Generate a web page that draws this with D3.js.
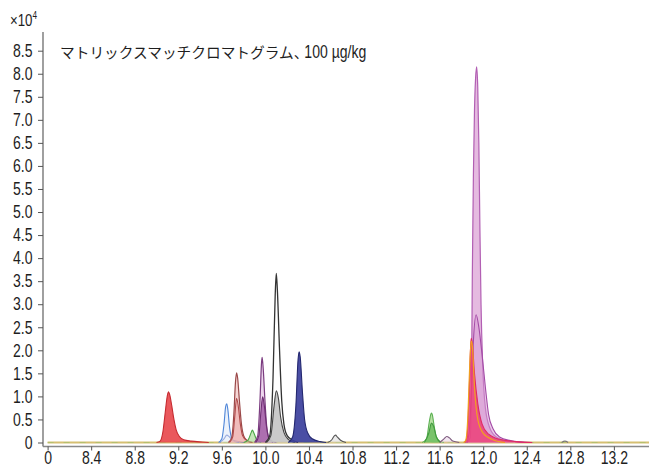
<!DOCTYPE html>
<html><head><meta charset="utf-8">
<script src="https://cdn.jsdelivr.net/npm/d3@7"></script>
<style>
html,body{margin:0;padding:0;background:#fff;}
svg{display:block;}
</style></head>
<body>
<svg id="c" width="649" height="467"></svg>
<script>
// ---- data (retention time in min, intensity in x10^4 counts) ----
const xTicks = [8.0, 8.4, 8.8, 9.2, 9.6, 10.0, 10.4, 10.8, 11.2, 11.6, 12.0, 12.4, 12.8, 13.2];
const xTickLabels = ["0", "8.4", "8.8", "9.2", "9.6", "10.0", "10.4", "10.8", "11.2", "11.6", "12.0", "12.4", "12.8", "13.2"];
const yTicks = [0, 0.5, 1.0, 1.5, 2.0, 2.5, 3.0, 3.5, 4.0, 4.5, 5.0, 5.5, 6.0, 6.5, 7.0, 7.5, 8.0, 8.5];
const titleJa = "マトリックスマッチクロマトグラム、";
const titleUnit = "100 µg/kg";

const baseline = [[8.0, 0], [13.6, 0]];
const redPeak = [[9.00,0],[9.03,0.02],[9.06,0.25],[9.08,0.65],[9.10,1.02],[9.11,1.10],[9.12,1.05],[9.14,0.80],[9.16,0.50],[9.18,0.28],[9.21,0.13],[9.25,0.06],[9.32,0.03],[9.42,0.01],[9.48,0]];
const bluePeak = [[9.57,0],[9.60,0.08],[9.62,0.40],[9.635,0.78],[9.645,0.84],[9.655,0.72],[9.67,0.35],[9.69,0.10],[9.72,0.02],[9.76,0]];
const blueSmall = [[9.58,0],[9.62,0.08],[9.645,0.16],[9.67,0.12],[9.70,0.05],[9.76,0.02],[9.80,0]];
const rosePeak = [[9.66,0],[9.69,0.10],[9.71,0.60],[9.725,1.30],[9.735,1.51],[9.745,1.40],[9.76,0.95],[9.78,0.40],[9.80,0.15],[9.83,0.05],[9.88,0]];
const roseSmall = [[9.67,0],[9.70,0.12],[9.72,0.60],[9.735,0.96],[9.75,0.80],[9.77,0.40],[9.79,0.15],[9.83,0.04],[9.88,0]];
const greenSmall = [[9.80,0],[9.84,0.05],[9.87,0.22],[9.88,0.27],[9.895,0.20],[9.92,0.06],[9.96,0]];
const purplePeak = [[9.90,0],[9.93,0.15],[9.95,0.90],[9.965,1.75],[9.97,1.85],[9.98,1.60],[9.995,0.95],[10.01,0.40],[10.03,0.12],[10.06,0.03],[10.10,0]];
const purpleSmall = [[9.91,0],[9.94,0.15],[9.96,0.70],[9.975,0.99],[9.99,0.80],[10.01,0.35],[10.03,0.10],[10.07,0]];
const greyPeak = [[10.01,0],[10.05,0.15],[10.08,0.80],[10.10,1.12],[10.12,0.95],[10.14,0.55],[10.17,0.22],[10.21,0.07],[10.27,0]];
const blackPeak = [[10.00,0],[10.04,0.15],[10.07,1.40],[10.09,3.20],[10.10,3.67],[10.11,3.30],[10.13,2.00],[10.15,0.90],[10.17,0.40],[10.20,0.15],[10.25,0.05],[10.30,0]];
const navyPeak = [[10.21,0],[10.25,0.12],[10.28,0.80],[10.30,1.80],[10.31,1.97],[10.32,1.85],[10.34,1.10],[10.36,0.50],[10.39,0.20],[10.43,0.08],[10.50,0.02],[10.56,0]];
const greySmall = [[10.57,0],[10.61,0.06],[10.635,0.15],[10.645,0.16],[10.66,0.12],[10.69,0.05],[10.74,0]];
const greenPeak = [[11.44,0],[11.48,0.08],[11.505,0.45],[11.52,0.62],[11.527,0.64],[11.535,0.58],[11.55,0.35],[11.57,0.12],[11.60,0.03],[11.64,0]];
const greenLow = [[11.46,0],[11.50,0.20],[11.525,0.42],[11.545,0.35],[11.57,0.12],[11.61,0]];
const mauveSmall = [[11.60,0],[11.64,0.08],[11.665,0.13],[11.69,0.10],[11.72,0.03],[11.78,0]];
const orchidPeak = [[11.85,0],[11.88,0.10],[11.89,0.80],[11.895,2.0],[11.90,3.6],[11.91,5.8],[11.92,7.2],[11.93,7.9],[11.94,8.15],[11.95,7.7],[11.96,6.5],[11.97,4.6],[11.98,3.0],[11.995,1.7],[12.02,0.75],[12.06,0.32],[12.12,0.12],[12.20,0.05],[12.35,0.01],[12.45,0]];
const orchidLow = [[11.85,0],[11.87,0.2],[11.89,1.0],[11.91,2.2],[11.935,2.77],[11.96,2.5],[11.99,1.9],[12.02,1.2],[12.05,0.6],[12.09,0.3],[12.15,0.12],[12.25,0.04],[12.38,0]];
const pinkPeak = [[11.83,0],[11.85,0.10],[11.87,1.00],[11.885,2.10],[11.89,2.26],[11.90,2.15],[11.92,1.50],[11.95,0.85],[11.99,0.40],[12.05,0.18],[12.15,0.07],[12.30,0.02],[12.45,0]];
const orangeTrace = [[11.82,0],[11.84,0.05],[11.86,0.60],[11.875,1.60],[11.89,2.20],[11.90,2.10],[11.92,1.20],[11.95,0.50],[12.00,0.20],[12.10,0.05],[12.20,0]];
const tinyBump = [[12.72,0],[12.75,0.03],[12.78,0]];

// ---- styles ----
const traces = [
  {d: redPeak,     fill: "#e8464a", fo: 0.9,  stroke: "#c62a30", sw: 1.1},
  {d: blueSmall,   fill: "none",    fo: 0,    stroke: "#3552b8", sw: 1.1},
  {d: bluePeak,    fill: "#dfe9f8", fo: 0.6,  stroke: "#4f86d8", sw: 1.1},
  {d: rosePeak,    fill: "#f2c6c4", fo: 0.7,  stroke: "#9a4848", sw: 1.2},
  {d: roseSmall,   fill: "#e9a2a0", fo: 0.5,  stroke: "#b04a4a", sw: 1.1},
  {d: greenSmall,  fill: "#9ed48a", fo: 0.6,  stroke: "#4aa547", sw: 1.1},
  {d: purplePeak,  fill: "#e6c6e6", fo: 0.7,  stroke: "#7b3c80", sw: 1.2},
  {d: purpleSmall, fill: "#9c55a0", fo: 0.8,  stroke: "#6e2f73", sw: 1.1},
  {d: blackPeak,   fill: "#ffffff", fo: 0.3,  stroke: "#333333", sw: 1.3},
  {d: greyPeak,    fill: "#c4c4c4", fo: 0.9,  stroke: "#444444", sw: 1.1},
  {d: navyPeak,    fill: "#3b3f9c", fo: 0.92, stroke: "#23276f", sw: 1.1},
  {d: greySmall,   fill: "#dddddd", fo: 0.6,  stroke: "#555555", sw: 1.1},
  {d: greenPeak,   fill: "#a8d98f", fo: 0.8,  stroke: "#5bb053", sw: 1.1},
  {d: greenLow,    fill: "#69bb5c", fo: 0.8,  stroke: "#3f9a3d", sw: 1.1},
  {d: mauveSmall,  fill: "#e8d0e6", fo: 0.5,  stroke: "#7d5a7e", sw: 1.1},
  {d: orchidPeak,  fill: "#e2b3dd", fo: 0.9,  stroke: "#b25fb3", sw: 1.2},
  {d: orchidLow,   fill: "#d79ad3", fo: 0.5,  stroke: "#a34aa6", sw: 1.1},
  {d: pinkPeak,    fill: "#ec3f78", fo: 0.85, stroke: "#e02a63", sw: 1.1},
  {d: orangeTrace, fill: "none",    fo: 0,    stroke: "#f0a020", sw: 1.2},
  {d: tinyBump,    fill: "none",    fo: 0,    stroke: "#777777", sw: 1.1}
];

// ---- chart ----
const svg = d3.select("#c");
const x = d3.scaleLinear().domain([8.0, 13.2]).range([47.6, 47.6 + 5.2 * 108.9]);
const y = d3.scaleLinear().domain([0, 8.5]).range([442.5, 50.7]);
const axisX0 = 43, axisY = y(0) + 4;
const numFont = "'Liberation Sans',Arial,sans-serif";
const squeeze = 0.78;

const area = d3.area().x(d => x(d[0])).y0(y(0)).y1(d => y(d[1])).curve(d3.curveMonotoneX);
const line = d3.line().x(d => x(d[0])).y(d => y(d[1])).curve(d3.curveMonotoneX);

const g = svg.append("g");
// baseline
g.append("path").attr("d", line(baseline)).attr("fill", "none").attr("stroke", "#d6bf72").attr("stroke-width", 2);
g.append("path").attr("d", line(baseline)).attr("fill", "none").attr("stroke", "#9cbf6a").attr("stroke-width", 1.2).attr("stroke-dasharray", "6,10").attr("opacity", 0.6);

traces.forEach(t => {
  if (t.fill !== "none") {
    g.append("path").attr("d", area(t.d)).attr("fill", t.fill).attr("fill-opacity", t.fo);
  }
  g.append("path").attr("d", line(t.d)).attr("fill", "none").attr("stroke", t.stroke).attr("stroke-width", t.sw).attr("stroke-linejoin", "round");
});

// y axis
const yAxis = d3.axisLeft(y).tickValues(yTicks).tickSize(5).tickPadding(5)
  .tickFormat(d => d === 0 ? "0" : d3.format(".1f")(d));
const ya = svg.append("g").attr("transform", `translate(${axisX0},0)`).call(yAxis);
ya.select(".domain").attr("d", `M-0,32V${axisY}`);
ya.selectAll("line").attr("stroke", "#555");
ya.select(".domain").attr("stroke", "#888").attr("stroke-width", 1.6);
ya.selectAll("text").attr("font-family", numFont).attr("font-size", 18).attr("fill", "#1e1e1e")
  .attr("x", -10.5 / squeeze).attr("transform", `scale(${squeeze},1)`);

// x axis
const xAxis = d3.axisBottom(x).tickValues(xTicks).tickSize(4).tickPadding(0.5)
  .tickFormat((d, i) => xTickLabels[i]);
const xa = svg.append("g").attr("transform", `translate(0,${axisY})`).call(xAxis);
xa.select(".domain").attr("d", `M${axisX0},0H649`).attr("stroke", "#888").attr("stroke-width", 1.6);
xa.selectAll("line").attr("stroke", "#555");
xa.selectAll("text").attr("font-family", numFont).attr("font-size", 18).attr("fill", "#1e1e1e")
  .attr("transform", `scale(${squeeze},1)`);

// exponent label
const ex = svg.append("text").attr("x", 10 / squeeze).attr("y", 26).attr("transform", `scale(${squeeze},1)`)
  .attr("font-family", numFont).attr("font-size", 17).attr("fill", "#1e1e1e");
ex.append("tspan").text("×10");
ex.append("tspan").attr("dy", -7).attr("font-size", 10.5).text("4");

// title
const tj = svg.append("text").attr("x", 60).attr("y", 58).attr("fill", "#1e1e1e")
  .attr("font-family", "'Noto Sans CJK JP',sans-serif").attr("font-size", 14.7).text(titleJa);
const jw = tj.node().getComputedTextLength();
svg.append("text").attr("x", (60 + jw - 4) / squeeze).attr("y", 58).attr("transform", `scale(${squeeze},1)`)
  .attr("fill", "#1e1e1e").attr("font-family", numFont).attr("font-size", 18).text(titleUnit);
</script>
</body></html>
